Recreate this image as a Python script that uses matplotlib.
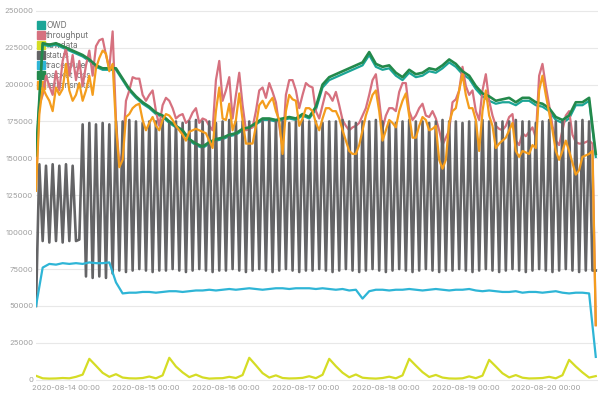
import numpy as np
import pandas as pd
import matplotlib
matplotlib.use("Agg")
import matplotlib.pyplot as plt
import matplotlib.dates as mdates
from matplotlib.lines import Line2D
from matplotlib.ticker import MultipleLocator, FuncFormatter

plt.rcParams["font.family"] = ["Inter", "DejaVu Sans"]

hourly = pd.date_range("2020-08-13 15:00", periods=169, freq="h")
two_hourly = pd.date_range("2020-08-13 15:00", periods=85, freq="2h")

# all values in thousands
owd = [150, 227, 226, 227, 225, 223, 221, 219, 216, 212, 210, 210, 210, 203, 196, 191, 187,
       184, 180, 178, 174, 171, 168, 162, 159, 157, 160, 162, 163, 165, 166, 169, 170, 173,
       176, 176, 175, 176, 177, 176, 179, 177, 183, 198, 203, 205, 207, 209, 211, 213, 220,
       212, 210, 211, 206, 203, 208, 205, 206, 209, 208, 211, 215, 212, 207, 204, 197, 192,
       189, 187, 188, 188, 186, 189, 189, 186, 185, 182, 176, 174, 177, 186, 186, 189, 151]

throughput = [132, 186, 193, 206, 199, 193, 209, 196, 216, 225, 206, 220, 203, 216, 199, 213,
              223, 206, 226, 230, 231, 220, 211, 236, 176, 145, 155, 189, 196, 205, 204, 204,
              193, 189, 193, 196, 182, 172, 186, 191, 189, 184, 177, 179, 180, 174, 176, 181,
              184, 174, 177, 176, 172, 169, 203, 216, 189, 196, 205, 177, 193, 208, 186, 169,
              170, 171, 182, 196, 198, 191, 201, 195, 188, 172, 157, 193, 203, 203, 196, 184,
              193, 201, 199, 198, 182, 177, 186, 195, 193, 189, 195, 186, 176, 172, 169, 171,
              172, 174, 179, 184, 193, 203, 207, 189, 170, 179, 184, 184, 182, 195, 201, 201,
              182, 176, 179, 184, 187, 179, 178, 182, 177, 169, 159, 164, 169, 188, 190, 196,
              212, 199, 193, 196, 182, 176, 196, 207, 189, 179, 172, 170, 169, 172, 178, 180,
              162, 159, 167, 165, 168, 171, 164, 206, 214, 199, 186, 172, 162, 159, 169, 179,
              182, 166, 161, 160, 160, 161, 162, 160, 37]

rawdata = [2.7, 1.0, 0.8, 0.9, 1.2, 1.0, 2.0, 3.5, 14.2, 9.5, 4.7, 2.0, 3.8, 1.5, 1.0, 0.9,
           1.2, 2.2, 1.0, 3.0, 14.9, 9.0, 5.0, 1.8, 3.5, 1.6, 0.8, 1.0, 1.1, 2.0, 1.2, 3.2,
           14.9, 9.8, 4.5, 1.5, 3.0, 1.2, 0.9, 1.0, 1.3, 2.4, 1.1, 3.4, 14.2, 9.2, 4.8, 1.7,
           3.6, 1.4, 1.0, 0.8, 1.2, 2.1, 1.0, 3.0, 14.2, 9.6, 5.2, 1.9, 3.3, 1.5, 0.9, 0.8,
           1.0, 2.3, 1.1, 2.8, 13.5, 9.0, 4.4, 1.6, 3.2, 1.4, 0.9, 1.0, 1.2, 2.0, 1.0, 3.1,
           13.5, 9.0, 5.0, 1.5, 2.5]

status = [50, 146, 94, 145, 93, 146, 94, 145, 93, 146, 94, 145, 94,
          95, 173, 70, 174, 69, 173, 70, 174, 69, 173, 72, 175,
          74, 175, 73, 176, 74, 175, 75, 174, 74, 175, 73, 175,
          74, 176, 74, 175, 75, 175, 74, 174, 73, 175, 74, 176,
          75, 175, 74, 175, 73, 174, 74, 175, 74, 176, 75, 175,
          74, 175, 73, 175, 74, 174, 75, 175, 74, 176, 73, 175,
          74, 175, 75, 174, 74, 175, 73, 176, 74, 175, 74, 175,
          75, 174, 74, 175, 73, 175, 74, 176, 75, 175, 74, 174,
          73, 175, 74, 175, 75, 176, 74, 175, 73, 175, 74, 174,
          75, 175, 74, 176, 73, 175, 74, 175, 75, 174, 74, 175,
          73, 176, 74, 175, 74, 175, 75, 174, 74, 175, 73, 175,
          74, 176, 75, 175, 74, 174, 73, 175, 74, 175, 75, 176,
          74, 175, 73, 175, 74, 174, 75, 175, 74, 176, 73, 175,
          74, 175, 75, 174, 74, 175, 73, 176, 74, 175, 74, 74]

traceroute = [50, 76, 78.5, 78, 79, 78.5, 79, 78.5, 79.5, 79, 79, 79.5, 66, 58.5,
              59, 59, 59.5, 59.5, 59, 59.5, 60, 60, 59.5, 60, 60.5, 60.5, 61, 60.5, 61, 61.5,
              61, 61.5, 62, 61.5, 61, 61.5, 62, 62, 61.5, 62, 62,
              62, 61.5, 62, 61.5, 61, 61.5, 60.5, 61, 55, 60,
              61, 61, 60.5, 61, 61, 61.5, 61, 60.5, 61, 61.5, 61, 60.5, 61, 61, 61.5, 60.5,
              60, 60.5, 60, 59.5,
              59.5, 60, 59, 59.5, 59.5, 59, 59.5, 60, 59, 58.5, 59, 59, 58.5, 15.5]

packet_loss = [152, 228, 227, 228, 226, 224, 222, 220, 217, 213, 211, 211, 211, 204, 197, 192,
               188, 185, 181, 179, 175, 172, 169, 163, 160, 158, 161, 163, 164, 166, 167, 170,
               171, 174, 177, 177, 176, 177, 178, 177, 180, 178, 185, 200, 205, 207, 209, 211,
               213, 215, 222, 214, 212, 213, 208, 205, 210, 207, 208, 211, 210, 213, 217, 214,
               209, 206, 199, 194, 192, 189, 190, 191, 188, 191, 191, 188, 187, 184, 178, 176,
               179, 188, 188, 191, 153]

retransmits = [128, 180, 198, 193, 189, 182, 198, 193, 197, 214, 196, 189, 193, 201, 189, 196,
               206, 193, 211, 218, 223, 221, 209, 214, 172, 144, 149, 178, 180, 184, 186, 187,
               176, 169, 174, 178, 172, 169, 176, 180, 179, 176, 172, 169, 166, 162, 168, 169,
               170, 169, 168, 167, 162, 157, 182, 198, 177, 176, 187, 169, 176, 194, 176, 160,
               160, 160, 172, 186, 189, 184, 188, 191, 182, 176, 153, 182, 193, 190, 189, 172,
               177, 184, 184, 182, 174, 169, 177, 184, 184, 182, 182, 177, 169, 162, 155, 153,
               153, 159, 169, 179, 186, 193, 196, 182, 162, 169, 176, 174, 171, 182, 189, 194,
               179, 164, 164, 172, 178, 176, 169, 170, 172, 149, 143, 149, 174, 182, 184, 196,
               207, 193, 184, 184, 176, 155, 182, 196, 179, 172, 157, 160, 162, 164, 169, 174,
               155, 151, 155, 154, 153, 159, 157, 196, 206, 193, 181, 169, 155, 149, 155, 162,
               155, 147, 139, 142, 151, 152, 153, 155, 37]

series = [
    ("OWD", two_hourly, owd, "#1ba596"),
    ("throughput", hourly, throughput, "#d6717f"),
    ("rawdata", two_hourly, rawdata, "#d5dc25"),
    ("status", hourly, status, "#646466"),
    ("traceroute", two_hourly, traceroute, "#2eb5d6"),
    ("packet loss", two_hourly, packet_loss, "#23894b"),
    ("retransmits", hourly, retransmits, "#f49d1d"),
]

fig = plt.figure(figsize=(6.04, 3.95), dpi=100)
ax = fig.add_axes([36 / 604, 13 / 395, 562 / 604, 372 / 395])

for name, t, vals, color in series:
    lw = 1.9 if name in ("packet loss", "status") else 1.6
    ax.plot(t, np.array(vals) * 1000, color=color, lw=lw, zorder=3,
            solid_joinstyle="round")

ax.set_xlim(pd.Timestamp("2020-08-13 15:00"), pd.Timestamp("2020-08-20 15:40"))
ax.set_ylim(-1500, 250500)

ax.yaxis.set_major_locator(MultipleLocator(25000))
ax.yaxis.set_major_formatter(FuncFormatter(lambda v, _: f"{int(v)}"))
ax.xaxis.set_major_locator(mdates.DayLocator())
ax.xaxis.set_major_formatter(mdates.DateFormatter("%Y-%m-%d %H:%M"))

ax.grid(axis="y", color="#e8e8e8", lw=0.8, zorder=0)
ax.set_axisbelow(True)
for s in ax.spines.values():
    s.set_visible(False)
ax.tick_params(length=0, labelsize=5.5, colors="#a0a0a0", pad=2)

handles = [Line2D([], [], marker="s", ls="none", color=c, markersize=5.5)
           for _, _, _, c in series]
leg = ax.legend(handles, [s[0] for s in series], loc="upper left",
                bbox_to_anchor=(0.0, 0.975), frameon=False, fontsize=6,
                handletextpad=0.2, labelspacing=0.12, handlelength=0.8,
                borderaxespad=0.1, borderpad=0.1)
for txt in leg.get_texts():
    txt.set_color("#707070")
leg.set_zorder(1)

fig.savefig("out.png", dpi=100)
